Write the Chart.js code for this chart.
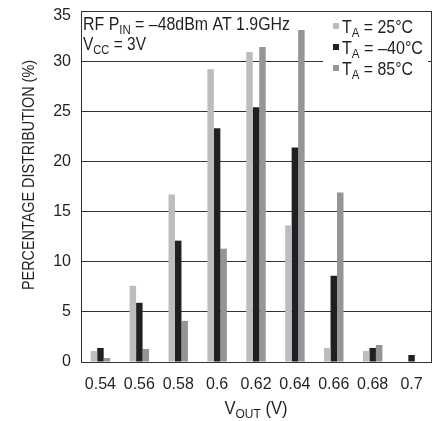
<!DOCTYPE html>
<html>
<head>
<meta charset="utf-8">
<script src="https://cdn.jsdelivr.net/npm/chart.js@4"></script>
<style>
  body { margin: 0; background: #fff; }
  #wrap { width: 439px; height: 421px; }
</style>
</head>
<body>
<div id="wrap"><canvas id="chart"></canvas></div>
<script>
// data
const vout = ["0.54", "0.56", "0.58", "0.6", "0.62", "0.64", "0.66", "0.68", "0.7"];
const ta25 = [1.1, 7.6, 16.7, 29.2, 30.9, 13.6, 1.4, 1.1, 0];
const taMinus40 = [1.4, 5.9, 12.1, 23.3, 25.4, 21.4, 8.6, 1.4, 0.7];
const ta85 = [0.4, 1.3, 4.1, 11.3, 31.4, 33.1, 16.9, 1.7, 0];
const yTicks = [0, 5, 10, 15, 20, 25, 30, 35];
const Y_MAX = 35;

const FAMILY = "'Liberation Sans', Arial, sans-serif";
const INK = "#231f20";
const colors = ["#bcbdc0", "#231f20", "#939598"];

Chart.defaults.font.family = FAMILY;
Chart.defaults.color = INK;

// text line with subscripts, squeezed to a width (the original font is condensed)
// parts = [[text, isSub], ...]
function richText(ctx, parts, x, y, size, width, align) {
  const widths = parts.map(([t, sub]) => {
    ctx.font = (sub ? size * 0.72 : size) + "px " + FAMILY;
    return ctx.measureText(t).width;
  });
  const total = widths.reduce((a, b) => a + b, 0);
  const k = width ? width / total : 1;
  ctx.save();
  ctx.translate(align === "center" ? x - total * k / 2 : x, y);
  ctx.scale(k, 1);
  ctx.textAlign = "left";
  ctx.textBaseline = "alphabetic";
  let cx = 0;
  parts.forEach(([t, sub], i) => {
    ctx.font = (sub ? size * 0.72 : size) + "px " + FAMILY;
    ctx.fillText(t, cx, sub ? size * 0.24 : 0);
    cx += widths[i];
  });
  ctx.restore();
}

const annotations = {
  id: "annotations",
  afterDraw(chart) {
    const { ctx, chartArea: a } = chart;
    ctx.save();
    ctx.strokeStyle = "#333";
    ctx.lineWidth = 1;
    ctx.beginPath();
    ctx.moveTo(a.right + 0.5, a.top);
    ctx.lineTo(a.right + 0.5, a.bottom);
    ctx.stroke();

    // top tick label sits a little lower in the original
    ctx.fillStyle = INK;
    ctx.font = "16px " + FAMILY;
    ctx.textAlign = "right";
    ctx.textBaseline = "middle";
    ctx.fillText(String(Y_MAX), a.left - 10, a.top + 5);

    // legend box hides the 30% gridline
    ctx.fillStyle = "#fff";
    ctx.fillRect(323, a.top + 2, 105, 70);

    ctx.fillStyle = INK;
    richText(ctx, [["RF P", false], ["IN", true], [" = \u201348dBm AT 1.9GHz", false]], 83, 30, 18, 207);
    richText(ctx, [["V", false], ["CC", true], [" = 3V", false]], 83, 50, 18, 63);

    const rows = [["25\u00b0C", 33, 71], ["\u201340\u00b0C", 54, 81], ["85\u00b0C", 75, 71]];
    rows.forEach(([t, base, w], i) => {
      ctx.fillStyle = colors[i];
      ctx.fillRect(333, base - 10, 6, 6);
      ctx.fillStyle = INK;
      richText(ctx, [["T", false], ["A", true], [" = " + t, false]], 342, base, 18, w);
    });

    // axis titles
    richText(ctx, [["V", false], ["OUT", true], [" (V)", false]], (a.left + a.right) / 2, 414, 18, 63, "center");
    ctx.translate(34, 175);
    ctx.rotate(-Math.PI / 2);
    ctx.fillStyle = INK;
    richText(ctx, [["PERCENTAGE DISTRIBUTION (%)", false]], 0, 0, 17, 230, "center");
    ctx.restore();
  }
};

new Chart(document.getElementById("chart"), {
  type: "bar",
  data: {
    labels: vout,
    datasets: [
      { label: "TA = 25°C", data: ta25, backgroundColor: colors[0] },
      { label: "TA = –40°C", data: taMinus40, backgroundColor: colors[1] },
      { label: "TA = 85°C", data: ta85, backgroundColor: colors[2] }
    ]
  },
  options: {
    responsive: true,
    maintainAspectRatio: false,
    animation: false,
    categoryPercentage: 0.5,
    barPercentage: 1.0,
    layout: { padding: { top: 11, right: 8, left: 0, bottom: 0 } },
    plugins: { legend: { display: false }, tooltip: { enabled: false } },
    scales: {
      x: {
        grid: { display: false },
        border: { display: true, color: "#333", width: 1 },
        ticks: { font: { size: 16 }, padding: 5, maxRotation: 0, autoSkip: false },
        afterFit: (s) => { s.height = 59; s.paddingLeft = 0; s.paddingRight = 0; }
      },
      y: {
        min: 0,
        max: Y_MAX,
        afterBuildTicks: (s) => { s.ticks = yTicks.map(v => ({ value: v })); },
        grid: { color: "#333", lineWidth: 1, drawTicks: false },
        border: { display: true, color: "#333", width: 1 },
        ticks: { font: { size: 16 }, padding: 10, callback: (v) => v === Y_MAX ? "" : v },
        afterFit: (s) => { s.width = 81; s.paddingTop = 0; s.paddingBottom = 0; }
      }
    }
  },
  plugins: [annotations]
});
</script>
</body>
</html>
